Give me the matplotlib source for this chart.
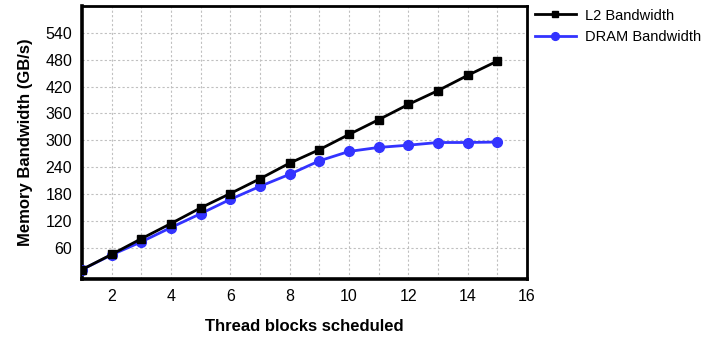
import matplotlib.pyplot as plt
from matplotlib.ticker import MultipleLocator

plt.rcParams['font.family'] = ['Liberation Sans', 'DejaVu Sans']

blocks = [1, 2, 3, 4, 5, 6, 7, 8, 9, 10, 11, 12, 13, 14, 15]
l2_bw = [11, 45, 80, 114, 149, 181, 214, 249, 279, 313, 346, 380, 411, 445, 477]
dram_bw = [11, 44, 73, 105, 136, 168, 197, 224, 254, 275, 284, 289, 295, 295, 296]

x_ticks = [2, 4, 6, 8, 10, 12, 14, 16]
y_ticks = [60, 120, 180, 240, 300, 360, 420, 480, 540]

fig = plt.figure(figsize=(7.05, 3.39), dpi=100)
ax = fig.add_axes([82 / 705, 1 - 279 / 339, 445 / 705, 273 / 339])

ax.plot(blocks, l2_bw, color='black', lw=2, marker='s', ms=6, label='L2 Bandwidth', zorder=4)
ax.plot(blocks, dram_bw, color='#3333ff', lw=2, marker='o', ms=7, label='DRAM Bandwidth', zorder=3)

ax.set_xlim(1, 16)
ax.set_ylim(-10, 600)
ax.set_xticks(x_ticks)
ax.set_yticks(y_ticks)
ax.xaxis.set_minor_locator(MultipleLocator(1))
ax.grid(True, which='both', axis='x', ls=(0, (2, 2)), color='#c0c0c0', lw=0.8)
ax.grid(True, which='major', axis='y', ls=(0, (2, 2)), color='#c0c0c0', lw=0.8)
ax.set_axisbelow(True)
ax.tick_params(which='both', length=0, labelsize=11.5, pad=7)

for side, s in ax.spines.items():
    s.set_linewidth(2.6 if side in ('left', 'bottom') else 2)
    s.set_color('black')

ax.set_xlabel('Thread blocks scheduled', fontsize=12, fontweight='bold', labelpad=11)
ax.set_ylabel('Memory Bandwidth (GB/s)', fontsize=12, fontweight='bold', labelpad=9)

ax.legend(loc='upper left', bbox_to_anchor=(0.995, 1.028), frameon=False, fontsize=10.5,
          handlelength=2.8, handletextpad=0.6, borderaxespad=0.3, labelspacing=0.5, markerscale=0.8)

fig.savefig('out.png', dpi=100)
